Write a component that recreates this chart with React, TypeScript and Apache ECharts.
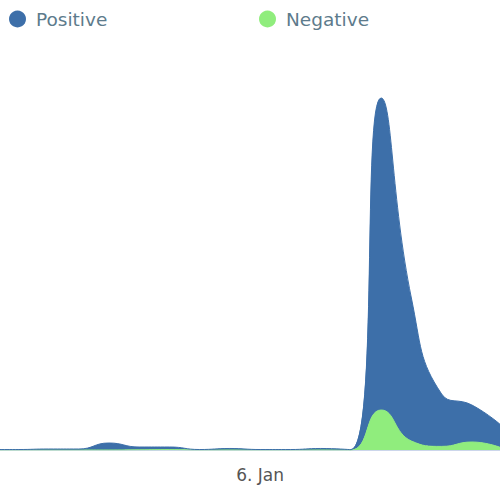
import React, { useEffect, useRef } from "react";
import * as echarts from "echarts";

// Hourly samples, hours relative to 6 Jan 00:00
const hours = [-9, -8, -7, -6, -5, -4, -3, -2, -1, 0, 1, 2, 3, 4, 5, 6, 7, 8];
const positive = [0.12, 0.12, 0.25, 0.25, 1.75, 0.7, 0.65, 0.12, 0.38, 0.12, 0.12, 0.38, 0.1, 78, 35.75, 13.1, 9.25, 5.5];
const negative = [0, 0, 0, 0, 0, 0.05, 0.1, 0, 0, 0, 0, 0, 0, 10, 2.25, 0.9, 2, 0.5];
const seriesNames = ["Positive", "Negative"];
const seriesColors = ["#3d6fa9", "#90ed7d"];
const months = ["Jan", "Feb", "Mar", "Apr", "May", "Jun", "Jul", "Aug", "Sep", "Oct", "Nov", "Dec"];

const HOUR = 3600 * 1000;
const DAY0 = new Date(2024, 0, 6).getTime();
const axisMin = DAY0 - 8.6 * HOUR;
const axisMax = DAY0 + 7.93 * HOUR;

export default function App() {
  const ref = useRef<HTMLDivElement>(null);
  useEffect(() => {
    if (!ref.current) return;
    const chart = echarts.init(ref.current, undefined, { renderer: "svg" });
    const font = "DejaVu Sans, Verdana, sans-serif";
    const toPairs = (arr: number[]) => hours.map((h, i) => [DAY0 + h * HOUR, arr[i]]);
    const legendBase = {
      top: 9.5,
      padding: 0,
      icon: "circle",
      itemWidth: 17,
      itemHeight: 17,
      textStyle: { fontSize: 18.5, color: "#5d7b8c", fontFamily: font, padding: [0, 0, 0, 5] },
    };
    chart.setOption({
      animation: false,
      textStyle: { fontFamily: font },
      legend: [
        { ...legendBase, data: [seriesNames[0]], left: 9 },
        { ...legendBase, data: [seriesNames[1]], left: 259 },
      ],
      grid: { left: 0, right: 0, top: 50, bottom: 50, containLabel: false },
      xAxis: {
        type: "time",
        min: axisMin,
        max: axisMax,
        axisLine: { show: true, lineStyle: { color: "#ccd6eb", width: 1 } },
        axisTick: { show: false },
        splitLine: { show: false },
        axisLabel: {
          margin: 16,
          fontSize: 17,
          color: "#555555",
          fontFamily: font,
          showMinLabel: false,
          showMaxLabel: false,
          formatter: (val: number) => {
            const d = new Date(val);
            if (d.getHours() === 0 && d.getMinutes() === 0) {
              return `${d.getDate()}. ${months[d.getMonth()]}`;
            }
            return "";
          },
        },
      },
      yAxis: {
        type: "value",
        min: 0,
        max: 100,
        show: false,
      },
      series: [
        {
          name: seriesNames[1],
          type: "line",
          stack: "total",
          smooth: 0.5,
          showSymbol: false,
          color: seriesColors[1],
          lineStyle: { width: 1, color: seriesColors[1] },
          areaStyle: { color: seriesColors[1], opacity: 1 },
          data: toPairs(negative),
        },
        {
          name: seriesNames[0],
          type: "line",
          stack: "total",
          smooth: 0.5,
          showSymbol: false,
          color: seriesColors[0],
          lineStyle: { width: 1, color: seriesColors[0] },
          areaStyle: { color: seriesColors[0], opacity: 1 },
          data: toPairs(positive),
        },
      ],
    });
    return () => chart.dispose();
  }, []);
  return <div ref={ref} style={{ width: 500, height: 500, position: "absolute", left: 0, top: 0 }} />;
}
